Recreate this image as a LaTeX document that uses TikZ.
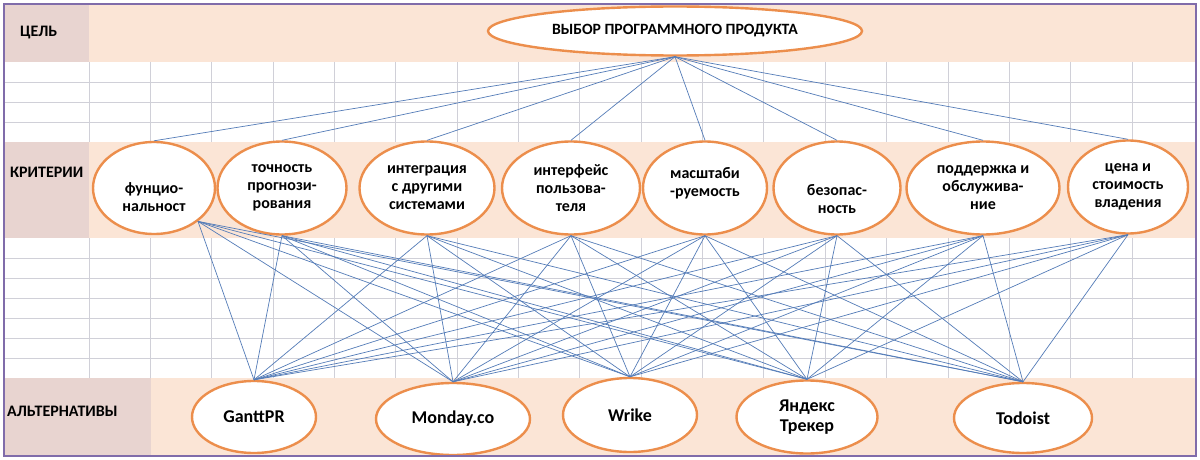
\documentclass[tikz,border=0pt]{standalone}
\usepackage{fontspec}
\setmainfont{Carlito}
\usetikzlibrary{shapes.geometric}
\definecolor{peach}{RGB}{251,229,214}
\definecolor{mauve}{RGB}{232,212,208}
\definecolor{gridc}{RGB}{208,208,216}
\definecolor{linkc}{RGB}{84,124,184}
\definecolor{ovalc}{RGB}{236,142,76}
\definecolor{framec}{RGB}{128,108,170}
\begin{document}
\begin{tikzpicture}[x=1pt,y=-1pt,
  oval/.style={ellipse, draw=ovalc, line width=2.4pt, fill=white, inner sep=0pt, align=center,
    font=\bfseries\fontsize{16}{18}\selectfont},
  altoval/.style={oval, font=\bfseries\fontsize{18}{20}\selectfont},
  link/.style={draw=linkc, line width=0.7pt},
  gridline/.style={draw=gridc, line width=0.8pt},
  rowlabel/.style={anchor=west, inner sep=0pt, font=\bfseries\fontsize{16}{18}\selectfont}]
\useasboundingbox (0,0) rectangle (1200,460);
\fill[white] (0,0) rectangle (1200,460);
% bands
\fill[peach] (5,5) rectangle (1195,62);
\fill[mauve] (5,5) rectangle (89,62);
\fill[peach] (5,142) rectangle (1195,238);
\fill[mauve] (5,142) rectangle (89,238);
\fill[peach] (5,378) rectangle (1195,455);
\fill[mauve] (5,378) rectangle (151,455);
% grid
\foreach \y in {82,102,122} \draw[gridline] (5,\y) -- (1195,\y);
\foreach \y in {258,278,298,318,338,358} \draw[gridline] (5,\y) -- (1195,\y);
\foreach \k in {0,...,17} {
  \draw[gridline] ({89+61.35*\k},62) -- ({89+61.35*\k},142);
  \draw[gridline] ({89+61.35*\k},238) -- ({89+61.35*\k},378);
}
% row labels
\node[rowlabel] (lgoal) at (20,33) {ЦЕЛЬ};
\node[rowlabel] (lcrit) at (10,172) {КРИТЕРИИ};
\node[rowlabel] (lalt) at (7,411) {АЛЬТЕРНАТИВЫ};
% goal
\node[oval, minimum width=374pt, minimum height=49pt, font=\bfseries\fontsize{15.7}{18}\selectfont] (goal) at (675,31) {ВЫБОР ПРОГРАММНОГО ПРОДУКТА};
% criteria
\node[oval, minimum width=122pt, minimum height=92pt] (c1) at (154,188) {\rule{0pt}{29pt}фунцио-\\нальност};
\node[oval, minimum width=129pt, minimum height=93pt] (c2) at (282,188) {точность\\прогнози-\\рования};
\node[oval, minimum width=135pt, minimum height=93pt] (c3) at (427,188) {интеграция\\с другими\\системами};
\node[oval, minimum width=138pt, minimum height=93pt] (c4) at (571,188) {интерфейс\\пользова-\\теля};
\node[oval, minimum width=124pt, minimum height=93pt] (c5) at (705,188) {масштаби\\-руемость\rule[-11.5pt]{0pt}{0pt}};
\node[oval, minimum width=127pt, minimum height=93pt] (c6) at (837,188) {\rule{0pt}{33pt}безопас-\\ность};
\node[oval, minimum width=153pt, minimum height=93pt] (c7) at (983,188) {поддержка и\\обслужива-\\ние};
\node[oval, minimum width=120pt, minimum height=93pt] (c8) at (1128,187) {цена и\\стоимость\\владения};
% alternatives
\node[altoval, minimum width=124pt, minimum height=72pt] (a1) at (254,417) {GanttPR};
\node[altoval, minimum width=154pt, minimum height=72pt] (a2) at (453,419) {Monday.co};
\node[altoval, minimum width=134pt, minimum height=74pt] (a3) at (630,415) {Wrike};
\node[altoval, minimum width=141pt, minimum height=73pt] (a4) at (807,417) {Яндекс\\Трекер};
\node[altoval, minimum width=138pt, minimum height=70pt] (a5) at (1023,418) {Todoist};
% connectors
\foreach \i in {1,...,8} \draw[link] (goal.south) -- (c\i.north);
\foreach \j in {1,...,5} \draw[link] (c1.south east) -- (a\j.north);
\foreach \i in {2,...,8} {
  \foreach \j in {1,...,5} \draw[link] (c\i.south) -- (a\j.north);
}
% frame
\draw[framec, line width=1.8pt] (4,4) rectangle (1196,456);
\end{tikzpicture}
\end{document}
